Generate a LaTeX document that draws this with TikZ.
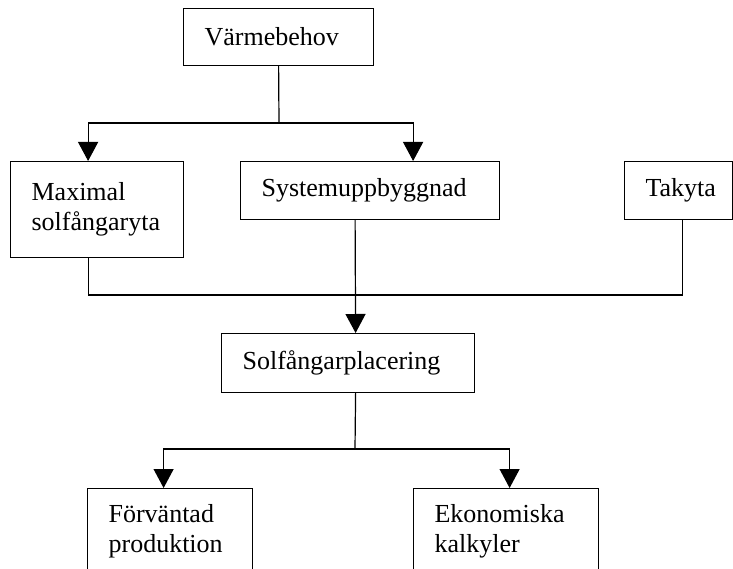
\documentclass[tikz,border=0pt]{standalone}
\usepackage{fontspec}
\setmainfont{Liberation Serif}
\usetikzlibrary{arrows.meta}

\tikzset{
  box/.style={draw, line width=1.2pt, anchor=north west, align=left,
    inner xsep=21pt, inner ysep=0pt, font=\fontsize{26}{30}\selectfont},
  link/.style={line width=1.2pt},
  arr/.style={link, -{Triangle[width=20pt,length=19pt]}}
}

\begin{document}
\begin{tikzpicture}[x=1pt,y=-1pt]
    \useasboundingbox (0,0) rectangle (733,569);
    \clip (0,0) rectangle (733,569);

    % rutor
    \node[box, text width=148pt, minimum height=57pt] (heat) at (183,8) {Värmebehov};
    \node[box, text width=131pt, minimum height=96pt] (maxarea) at (10,161) {Maximal\\solfångaryta};
    \node[box, text width=217pt, minimum height=58pt] (system) at (240,161) {Systemuppbyggnad};
    \node[box, text width=66pt, minimum height=58pt] (roof) at (624,161) {Takyta};
    \node[box, text width=211pt, minimum height=59pt] (place) at (221,333) {Solfångarplacering};
    \node[box, text width=123pt, minimum height=86pt] (forecast) at (87,488) {Förväntad\\produktion};
    \node[box, text width=143pt, minimum height=86pt] (econ) at (413,488) {Ekonomiska\\kalkyler};

    % förgreningspunkter
    \coordinate (fork1) at (279,123);
    \coordinate (merge) at (355,295);
    \coordinate (fork2) at (355,449);

    % Värmebehov -> Maximal / Systemuppbyggnad
    \draw[link] (heat.south) -- (fork1);
    \draw[arr] (fork1) -| ([xshift=-9pt]maxarea.north);
    \draw[arr] (fork1) -| ([xshift=43pt]system.north);

    % Maximal + Takyta ihop, Systemuppbyggnad -> Solfångarplacering
    \draw[link] ([xshift=-9pt]maxarea.south) |- (merge) -| ([xshift=4pt]roof.south);
    \draw[arr] ([xshift=-15pt]system.south) -- ([xshift=7.5pt]place.north);

    % Solfångarplacering -> Förväntad / Ekonomiska
    \draw[link] ([xshift=7.5pt]place.south) -- (fork2);
    \draw[arr] (fork2) -| ([xshift=-6.5pt]forecast.north);
    \draw[arr] (fork2) -| ([xshift=3.5pt]econ.north);
\end{tikzpicture}
\end{document}
